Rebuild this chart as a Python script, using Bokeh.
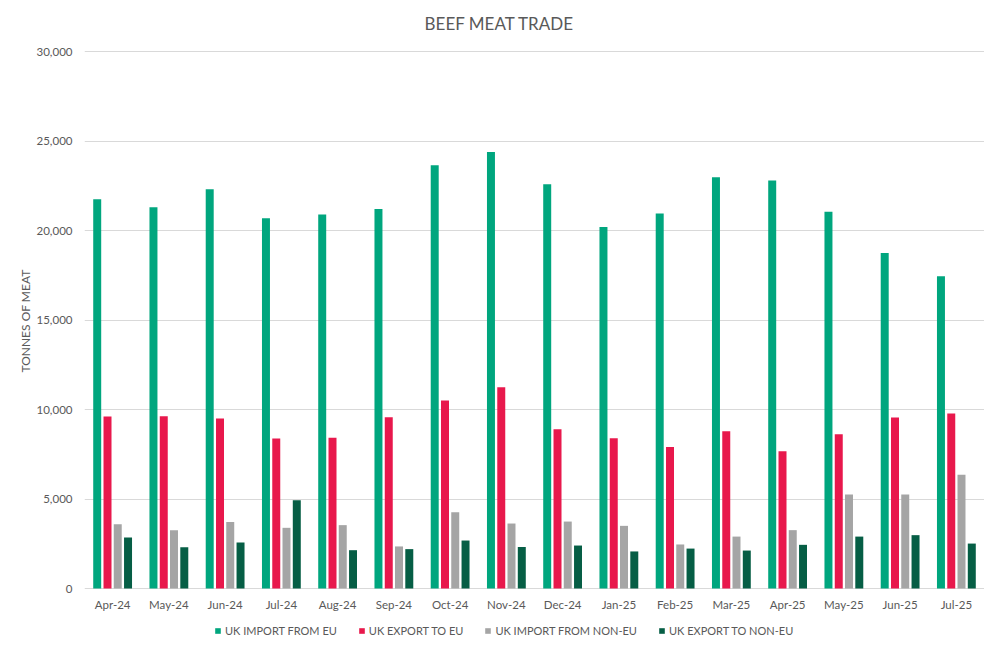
from bokeh.plotting import figure
from bokeh.models import (ColumnDataSource, FactorRange, Range1d, FixedTicker,
                          NumeralTickFormatter, Legend, LegendItem, Label)
from bokeh.core.properties import value
from bokeh.transform import dodge
from bokeh.embed import file_html
from bokeh.resources import INLINE

months = ["Apr-24", "May-24", "Jun-24", "Jul-24", "Aug-24", "Sep-24", "Oct-24", "Nov-24",
          "Dec-24", "Jan-25", "Feb-25", "Mar-25", "Apr-25", "May-25", "Jun-25", "Jul-25"]
import_eu = [21750, 21300, 22300, 20680, 20900, 21200, 23650, 24380,
             22580, 20200, 20950, 22970, 22800, 21050, 18750, 17450]
export_eu = [9610, 9620, 9500, 8380, 8420, 9570, 10500, 11250,
             8900, 8390, 7910, 8790, 7670, 8620, 9560, 9780]
import_noneu = [3590, 3260, 3720, 3390, 3540, 2350, 4260, 3630,
                3740, 3500, 2460, 2900, 3260, 5250, 5250, 6350]
export_noneu = [2850, 2310, 2570, 4930, 2140, 2200, 2680, 2320,
                2400, 2070, 2230, 2120, 2440, 2900, 2980, 2510]
series_names = ["UK IMPORT FROM EU", "UK EXPORT TO EU", "UK IMPORT FROM NON-EU", "UK EXPORT TO NON-EU"]
y_ticks = [0, 5000, 10000, 15000, 20000, 25000, 30000]

colors = ["#00A67E", "#E8184C", "#A5A5A5", "#065E45"]
FONT = "Lato"
TXT = "#595959"

src = ColumnDataSource(dict(month=months, s0=import_eu, s1=export_eu,
                            s2=import_noneu, s3=export_noneu))

W, H = 984, 637
TOP, BOTTOM = 4, 0
# plot frame runs the full height so title/legend can sit inside it;
# the value range is widened so 0..30,000 occupies the reference's band
Y0_PX, Y30_PX = 588, 51
per_px = 30000 / (Y0_PX - Y30_PX)
y_start = -(H - BOTTOM - Y0_PX) * per_px
y_end = 30000 + (Y30_PX - TOP) * per_px

p = figure(width=W, height=H, x_range=FactorRange(*months), y_range=Range1d(y_start, y_end),
           output_backend="svg", toolbar_location=None, x_axis_location=None,
           min_border_left=84, min_border_right=0, min_border_top=TOP, min_border_bottom=BOTTOM)
p.outline_line_color = None
p.background_fill_color = "white"
p.border_fill_color = "white"

offsets = [-0.274, -0.091, 0.091, 0.274]
renderers = []
for i, off in enumerate(offsets):
    r = p.vbar(x=dodge("month", off, range=p.x_range), top="s%d" % i, bottom=0, width=0.142,
               source=src, fill_color=colors[i], line_color=None)
    renderers.append(r)

p.xgrid.grid_line_color = None
p.ygrid.ticker = FixedTicker(ticks=y_ticks)
p.ygrid.grid_line_color = "#D9D9D9"
p.ygrid.grid_line_width = 1

p.yaxis.ticker = FixedTicker(ticks=y_ticks)
p.yaxis.formatter = NumeralTickFormatter(format="0,0")
p.yaxis.axis_line_color = None
p.yaxis.major_tick_line_color = None
p.yaxis.minor_tick_line_color = None
p.yaxis.major_label_text_font = FONT
p.yaxis.major_label_text_font_size = "11.5px"
p.yaxis.major_label_text_color = TXT
p.yaxis.major_label_standoff = 6
p.yaxis.axis_label = "TONNES OF MEAT"
p.yaxis.axis_label_text_font = FONT
p.yaxis.axis_label_text_font_size = "12px"
p.yaxis.axis_label_text_font_style = "normal"
p.yaxis.axis_label_text_color = TXT
p.yaxis.axis_label_standoff = 1

# category labels under the zero line
p.text(x="month", y=0, text="month", source=src, y_offset=9,
       text_align="center", text_baseline="top",
       text_font=value(FONT), text_font_size="11.5px", text_color=TXT)

title = Label(x=415, y=H - 23 - BOTTOM, x_units="screen", y_units="screen", text="BEEF MEAT TRADE",
              text_font=FONT, text_font_size="17px", text_color=TXT,
              text_align="center", text_baseline="middle")
p.add_layout(title)

items = [LegendItem(label=series_names[i], renderers=[renderers[i]]) for i in range(4)]
legend = Legend(items=items,
                orientation="horizontal", location=(130, 0),
                glyph_width=7, glyph_height=7, label_standoff=4, spacing=21,
                padding=0, margin=0, label_height=12,
                label_text_font=FONT, label_text_font_size="11px", label_text_color=TXT,
                border_line_color=None, background_fill_alpha=0)
p.add_layout(legend, "center")

open("out.html", "w").write(file_html(p, INLINE))
